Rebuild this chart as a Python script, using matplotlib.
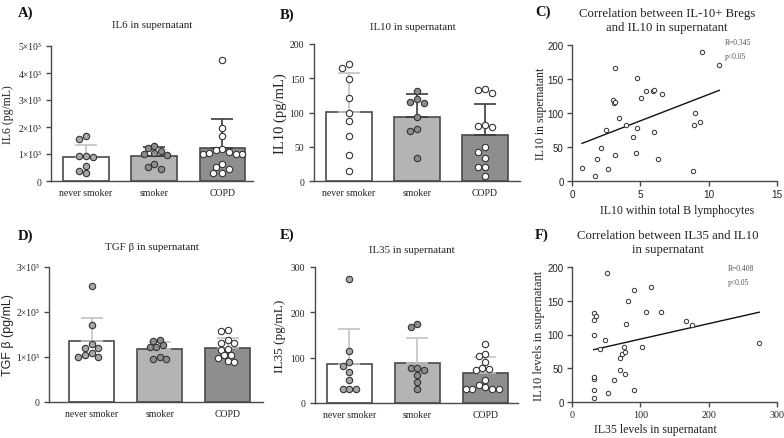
import numpy as np
import matplotlib
matplotlib.use("Agg")
import matplotlib.pyplot as plt

# ---------------- data ----------------
groups = ["never smoker", "smoker", "COPD"]

il6_means = [890, 910, 1210]
il6_sd = [450, 340, 1100]
il6_never = [1680, 1560, 910, 880, 920, 550, 370, 300]
il6_smoker = [1280, 1230, 1100, 1000, 1030, 960, 620, 520, 430]
il6_copd = [4500, 1970, 1650, 1180, 1150, 1000, 1000, 1000, 1050, 1070, 630, 530, 460, 300, 300]

il10_means = [101, 94, 67]
il10_sd = [56, 33, 46]
il10_never = [171, 165, 149, 121, 100, 87, 66, 38, 15]
il10_smoker = [132, 116, 120, 114, 93, 76, 73, 33]
il10_copd = [133, 128, 134, 82, 79, 81, 49, 42, 33, 20, 20, 8]

tgf_means = [1348, 1170, 1190]
tgf_sd = [510, 165, 235]
tgf_never = [2580, 1710, 1280, 1200, 1200, 1080, 1050, 1000, 1010]
tgf_smoker = [1363, 1378, 1259, 1222, 1230, 1000, 963, 963]
tgf_copd = [1600, 1570, 1380, 1320, 1320, 1160, 1170, 1050, 1040, 980, 910, 900]

il35_means = [86, 88, 66]
il35_sd = [77, 55, 35]
il35_never = [273, 115, 90, 82, 69, 50, 31, 31, 31]
il35_smoker = [167, 175, 77, 78, 72, 62, 46, 31]
il35_copd = [130, 108, 103, 90, 77, 75, 72, 51, 40, 35, 31, 31, 31, 31]

c_x = [0.73, 1.71, 1.83, 2.15, 2.49, 2.61, 3.0, 3.05, 3.17, 3.17, 3.12, 3.41, 3.95, 4.76,
       4.76, 4.44, 4.71, 5.07, 5.44, 5.93, 6.02, 6.02, 6.29, 6.59, 8.83, 8.95, 9.0, 9.34,
       9.54, 10.78]
c_y = [18.7, 7.4, 32, 49, 75, 17.7, 119, 114.5, 115.5, 165.6, 37.8, 92.9, 82, 150.9,
       78, 65, 41.8, 121.9, 132, 133, 134, 72.7, 33, 128, 14, 82, 100, 87, 190, 170.5]

f_x = [31.7, 31.7, 31.7, 31.7, 31.7, 31.7, 31.7, 35.6, 51.2, 52.2, 48.3, 40.5, 62, 69.8,
       70.7, 73.7, 75.6, 78, 78, 79, 82, 90, 91, 103, 108, 115.6, 130.7, 166.8, 176, 274]
f_y = [6.5, 17.4, 34.7, 37.7, 100, 121.6, 132, 128, 191.6, 12.9, 92.3, 78, 32, 65,
       47.6, 71.5, 81, 74.4, 41.7, 115, 149, 165.8, 17.4, 81.4, 133, 170.7, 133.5, 119.6,
       114, 86.8]

# ---------------- style ----------------
W, H = 784, 439
SERIF = "Liberation Serif"
SANS = "Liberation Sans"
plt.rcParams["font.family"] = SERIF
TXT = "#222222"
SPINE = "#4a4a4a"
bar_colors = ["#ffffff", "#b4b4b6", "#8e8e90"]
bar_edge = "#4a4a4a"

fig = plt.figure(figsize=(W / 100, H / 100), dpi=100)


def add_ax(l, t, r, b):
    return fig.add_axes([l / W, 1 - b / H, (r - l) / W, (b - t) / H])


def ftext(x, y, s, **kw):
    fig.text(x / W, 1 - y / H, s, **kw)


def style_spines(ax):
    for s in ["top", "right"]:
        ax.spines[s].set_visible(False)
    for s in ["left", "bottom"]:
        ax.spines[s].set_color(SPINE)
        ax.spines[s].set_linewidth(1.0)
    ax.tick_params(colors=SPINE, labelcolor=TXT, width=1.0, length=3.5, direction="out")


def swarm_offsets(ax, xc, vals, d):
    # place points side by side in pixel space so they don't overlap
    pts = []
    order = np.argsort(vals)[::-1]
    out = np.zeros(len(vals))
    cands = [0] + [s * m * d for m in (1, 2, 3, 4) for s in (-1, 1)] + \
            [s * (m + 0.5) * d for m in (0, 1, 2, 3) for s in (-1, 1)]
    cands = sorted(cands, key=lambda c: (abs(c), c))
    for i in order:
        px0, py = ax.transData.transform((xc, vals[i]))
        best = 0
        for c in cands:
            if all((c - ox) ** 2 + (py - oy) ** 2 >= (0.95 * d) ** 2 for ox, oy in pts):
                best = c
                break
        pts.append((best, py))
        out[i] = ax.transData.inverted().transform((px0 + best, py))[0] - xc
    return out


def bar_panel(box, xlim, means, sds, pts, ymax, ticks, ticklabels, ylabel, ylabel_x,
              err_colors, pt_colors, ylabel_font=SERIF, ylabel_size=9):
    ax = add_ax(*box)
    ax.set_xlim(*xlim)
    ax.set_ylim(0, ymax)
    x = np.arange(3)
    ax.bar(x, means, width=0.67, color=bar_colors, edgecolor=bar_edge, linewidth=1.2, zorder=2)
    for i in range(3):
        ax.errorbar([x[i]], [means[i]], yerr=[[0], [sds[i]]], fmt="none",
                    ecolor=err_colors[i], elinewidth=1.2, capsize=8, capthick=1.2, zorder=3)
    for i in range(3):
        offs = swarm_offsets(ax, x[i], np.array(pts[i], float), 6.6)
        ax.scatter(x[i] + offs, pts[i], s=21, facecolor=pt_colors[i], edgecolor="#333333",
                   linewidth=0.8, zorder=4)
    style_spines(ax)
    ax.set_xticks(x)
    ax.set_xticklabels(groups, fontsize=7.0)
    ax.tick_params(axis="x", length=0, pad=5)
    ax.set_yticks(ticks)
    ax.set_yticklabels(ticklabels, fontsize=6.9)
    ax.set_ylabel(ylabel, fontsize=ylabel_size, family=ylabel_font, color=TXT,
                  va="center", ha="center")
    ax.yaxis.set_label_coords((ylabel_x - box[0]) / (box[2] - box[0]), 0.5)
    return ax


sup = "\u00d710\u00b3"
LG = "#c4c4c4"
DK = "#3c3c3c"
GP1 = "#a8a8a8"
GP2 = "#8c8c8c"

# A
bar_panel((51, 47, 253, 182), (-0.513, 2.447), il6_means, il6_sd,
          [il6_never, il6_smoker, il6_copd], 5000, [0, 1000, 2000, 3000, 4000, 5000],
          ["0"] + [f"{i}{sup}" for i in range(1, 6)], "IL6 (pg/mL)", 8,
          [LG, DK, DK], [GP1, GP2, "white"], ylabel_size=8.5)
# B
bar_panel((314, 45, 520, 182), (-0.515, 2.515), il10_means, il10_sd,
          [il10_never, il10_smoker, il10_copd], 200, [0, 50, 100, 150, 200],
          ["0", "50", "100", "150", "200"], "IL10 (pg/mL)", 280,
          [LG, DK, DK], ["white", GP2, "white"], ylabel_size=10.5)
# D
bar_panel((49, 268, 263, 403), (-0.625, 2.52), tgf_means, tgf_sd,
          [tgf_never, tgf_smoker, tgf_copd], 3000, [0, 1000, 2000, 3000],
          ["0"] + [f"{i}{sup}" for i in range(1, 4)], "TGF \u03b2 (pg/mL)", 8,
          [LG, LG, LG], [GP1, GP2, "white"], ylabel_font=SANS, ylabel_size=9)
# E
bar_panel((315, 268, 518, 404), (-0.507, 2.478), il35_means, il35_sd,
          [il35_never, il35_smoker, il35_copd], 300, [0, 100, 200, 300],
          ["0", "100", "200", "300"], "IL35 (pg/mL)", 280,
          [LG, LG, LG], [GP1, GP2, "white"], ylabel_size=9.5)


def scatter_panel(box, xs, ys, xlim, ylim, xticks, yticks, xfont, yfont, ylabel,
                  ylabel_x, ylabel_size, rtext, rpos):
    ax = add_ax(*box)
    ax.set_xlim(*xlim)
    ax.set_ylim(*ylim)
    ax.scatter(xs, ys, s=10, facecolor="white", edgecolor="#333333", linewidth=0.7, zorder=3)
    xs_a = np.array(xs)
    k, b = np.polyfit(xs_a, np.array(ys), 1)
    xx = np.array([xs_a.min(), xs_a.max()])
    ax.plot(xx, k * xx + b, color="#111111", lw=1.0, zorder=2)
    style_spines(ax)
    ax.tick_params(pad=2.5)
    ax.set_xticks(xticks)
    ax.set_xticklabels([str(t) for t in xticks], fontsize=7.2, family=xfont)
    ax.set_yticks(yticks)
    ax.set_yticklabels([str(t) for t in yticks], fontsize=7.0, family=yfont)
    ax.set_ylabel(ylabel, fontsize=ylabel_size, color=TXT, va="center", ha="center")
    ax.yaxis.set_label_coords((ylabel_x - box[0]) / (box[2] - box[0]), 0.5)
    ftext(rpos[0], rpos[1], rtext, fontsize=5.5, color="#555555", va="center", linespacing=2.0)
    return ax


scatter_panel((572, 46, 777, 182), c_x, c_y, (0, 15), (0, 200), [0, 5, 10, 15],
              [0, 50, 100, 150, 200], SANS, SANS, "IL10 in supernatant", 541, 8.5,
              "R=0.345\np<0.05", (725, 50))
scatter_panel((572, 268, 777, 403), f_x, f_y, (0, 300), (0, 200), [0, 100, 200, 300],
              [0, 50, 100, 150, 200], SERIF, SANS, "IL10 levels in supernatant", 539, 9,
              "R=0.408\np<0.05", (728, 276))

# x labels for scatter panels
ftext(677, 211, "IL10 within total B lymphocytes", fontsize=8.5, ha="center", va="center", color=TXT)
ftext(655, 430, "IL35 levels in supernatant", fontsize=8.5, ha="center", va="center", color=TXT)

# titles
ftext(152, 25, "IL6 in supernatant", fontsize=7.8, ha="center", va="center", color=TXT)
ftext(413, 27, "IL10 in supernatant", fontsize=7.8, ha="center", va="center", color=TXT)
ftext(667, 21, "Correlation between IL-10+ Bregs\nand IL10 in supernatant", fontsize=9.2,
      ha="center", va="center", color=TXT, linespacing=1.15)
ftext(152, 248, "TGF \u03b2 in supernatant", fontsize=7.8, ha="center", va="center", color=TXT)
ftext(412, 251, "IL35 in supernatant", fontsize=7.8, ha="center", va="center", color=TXT)
ftext(668, 243, "Correlation between IL35 and IL10\nin supernatant", fontsize=9.2,
      ha="center", va="center", color=TXT, linespacing=1.15)

# panel letters
for s, x, y in [("A)", 18, 13), ("B)", 280, 15), ("C)", 535, 12),
                ("D)", 18, 236), ("E)", 280, 235), ("F)", 535, 235)]:
    ftext(x, y, s, fontsize=10.5, fontweight="bold", va="center", ha="left", color="#111111")

fig.savefig("out.png", dpi=100)
